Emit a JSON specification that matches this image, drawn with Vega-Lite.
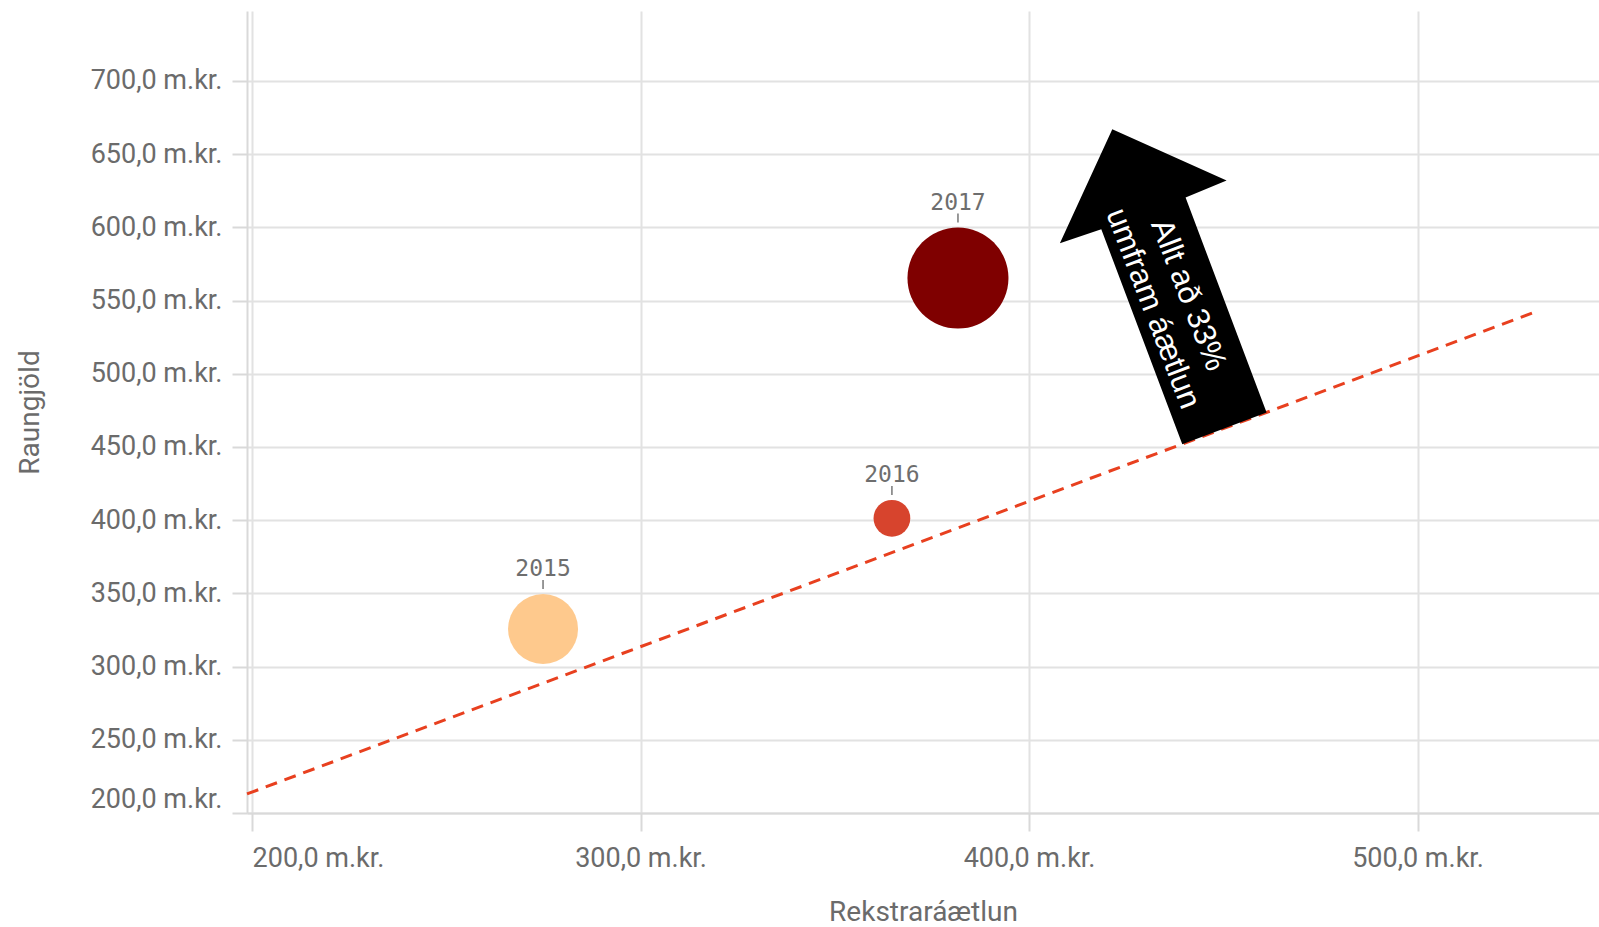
{
  "$schema": "https://vega.github.io/schema/vega-lite/v6.json",
  "width": 1352,
  "height": 802,
  "autosize": {"type": "none"},
  "padding": {"left": 247, "top": 11, "right": 0, "bottom": 114},
  "background": "white",
  "config": {"view": {"stroke": null}},
  "data": {"values": [
    {"Ár": "2015", "Rekstraráætlun": 274.9, "Raungjöld": 325.7, "Stærð": 49},
    {"Ár": "2016", "Rekstraráætlun": 364.7, "Raungjöld": 401.3, "Stærð": 13.5},
    {"Ár": "2017", "Rekstraráætlun": 381.7, "Raungjöld": 565.4, "Stærð": 102}
  ]},
  "encoding": {
    "x": {
      "field": "Rekstraráætlun", "type": "quantitative",
      "scale": {"domain": [198.7, 546.7], "nice": false, "zero": false},
      "axis": {
        "title": "Rekstraráætlun", "values": [200, 300, 400, 500],
        "labelExpr": "replace(format(datum.value, '.1f'), '.', ',') + ' m.kr.'",
        "labelFont": "Roboto", "labelFontSize": 27, "labelColor": "#6b6b6b",
        "labelPadding": 14, "labelFlush": 6,
        "tickSize": 18, "tickWidth": 2, "tickColor": "#d9d9d9",
        "domainColor": "#d9d9d9", "domainWidth": 2,
        "gridColor": "#e2e2e2", "gridWidth": 2,
        "titleFont": "Roboto", "titleFontSize": 28, "titleFontWeight": "normal",
        "titleColor": "#6b6b6b", "titlePadding": 27
      }
    },
    "y": {
      "field": "Raungjöld", "type": "quantitative",
      "scale": {"domain": [200, 747.8], "nice": false, "zero": false},
      "axis": {
        "title": "Raungjöld", "values": [200, 250, 300, 350, 400, 450, 500, 550, 600, 650, 700],
        "labelExpr": "replace(format(datum.value, '.1f'), '.', ',') + ' m.kr.'",
        "labelFont": "Roboto", "labelFontSize": 27, "labelColor": "#6b6b6b",
        "labelPadding": 10, "labelFlush": 6,
        "tickSize": 15, "tickWidth": 2, "tickColor": "#d9d9d9",
        "domainColor": "#d9d9d9", "domainWidth": 2,
        "gridColor": "#e2e2e2", "gridWidth": 2,
        "titleFont": "Roboto", "titleFontSize": 28, "titleFontWeight": "normal",
        "titleColor": "#6b6b6b", "titlePadding": 46
      }
    }
  },
  "layer": [
    {
      "data": {"values": [
        {"Rekstraráætlun": 198.7, "Raungjöld": 213.0},
        {"Rekstraráætlun": 530.4, "Raungjöld": 542.4}
      ]},
      "mark": {"type": "line", "color": "#e8401f", "strokeWidth": 3, "strokeDash": [12, 8]}
    },
    {
      "mark": {"type": "circle", "opacity": 1},
      "encoding": {
        "size": {"field": "Stærð", "type": "quantitative", "scale": {"type": "linear", "domain": [0, 102], "range": [0, 10201], "zero": true}, "legend": null},
        "color": {"field": "Ár", "type": "nominal", "scale": {"domain": ["2015", "2016", "2017"], "range": ["#fec98d", "#d7442d", "#7f0000"]}, "legend": null}
      }
    },
    {
      "mark": {"type": "rule", "color": "#777777", "strokeWidth": 1.5,
        "yOffset": {"expr": "-(5*sqrt(datum['Stærð']) + 5)"},
        "y2Offset": {"expr": "-(5*sqrt(datum['Stærð']) + 14)"}},
      "encoding": {
        "y2": {"field": "Raungjöld"}
      }
    },
    {
      "mark": {"type": "text", "font": "DejaVu Sans Mono", "fontSize": 23, "color": "#6e6e6e", "align": "center", "baseline": "alphabetic",
        "dy": {"expr": "-(5*sqrt(datum['Stærð']) + 18)"}},
      "encoding": {
        "text": {"field": "Ár", "type": "nominal"}
      }
    },
    {
      "data": {"values": [
        {"Rekstraráætlun": 436.3, "Raungjöld": 549.0, "Texti": "Allt að 33%\numfram áætlun"}
      ]},
      "layer": [
        {
          "mark": {"type": "point", "shape": "M-0.578,-1.728L0.565,-1.215L0.155,-1.045L0.965,1.105L0.122,1.422L-0.688,-0.728L-1.102,-0.588Z", "size": 40000, "filled": true, "color": "#000000", "opacity": 1, "strokeWidth": 0}
        },
        {
          "mark": {"type": "text", "font": "Liberation Sans", "fontSize": 31.5, "lineHeight": 38, "lineBreak": "\n", "color": "#ffffff", "angle": 69, "align": "center", "baseline": "middle", "dy": -19},
          "encoding": {"text": {"field": "Texti", "type": "nominal"}}
        }
      ]
    }
  ]
}
